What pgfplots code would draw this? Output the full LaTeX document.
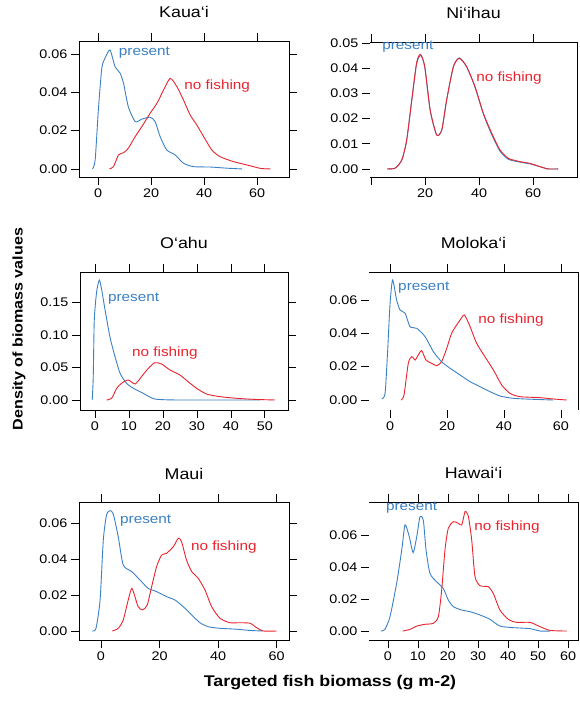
\documentclass[border=0pt]{standalone}
\usepackage{fontspec}
\setmainfont[FakeStretch=1.15]{Liberation Sans}
\usepackage{pgfplots}
\pgfplotsset{compat=1.18}
\definecolor{pblue}{RGB}{58,128,196}
\definecolor{nred}{RGB}{232,35,45}
\newcommand{\annfont}{\fontsize{13.3}{15}\selectfont}
\pgfplotsset{
  panel/.style={scale only axis, anchor=south west, clip=false, no markers,
    tick align=outside, major tick length=8pt,
    every tick/.style={black, line width=0.8pt},
    axis line style={line width=0.9pt},
    ticklabel style={font=\fontsize{12.5}{14}\selectfont},
    /pgf/number format/assume math mode=true,
    scaled y ticks=false,
    yticklabel style={/pgf/number format/fixed, /pgf/number format/fixed zerofill, /pgf/number format/precision=2},
    title style={font=\fontsize{15.5}{18}\selectfont, anchor=base, at={(0.5,1)}, yshift=17pt}},
  rightpanel/.style={panel, ytick pos=left, axis line style={draw=none}},
  present/.style={pblue, line width=0.9pt, smooth, tension=0.4},
  nofish/.style={nred, line width=0.9pt, smooth, tension=0.4},
}
\begin{document}
\begin{tikzpicture}
\path[use as bounding box] (0,0) rectangle (579pt,701pt);

% Kaua'i
\begin{axis}[panel, at={(79pt,524pt)}, width=210pt, height=136pt,
  xmin=-7.2, xmax=72, ymin=-0.0042, ymax=0.0668,
  xtick={0,20,40,60}, ytick={0,0.02,0.04,0.06}, title={Kaua‘i}]
\addplot[present] coordinates {(-2.1,0) (-1.1,0.0047) (0.1,0.0308) (1.4,0.0526) (2.6,0.0578) (4.5,0.0621) (6.4,0.0534) (8.3,0.050) (9.6,0.0447) (11.4,0.0325) (14.0,0.0247) (16.5,0.026) (19.6,0.027) (21.5,0.0247) (23.4,0.0169) (25.9,0.0099) (29.1,0.0073) (32.2,0.003) (36,0.0012) (42.3,0.001) (48.6,0.0004) (54.2,0)};
\addplot[nofish] coordinates {(4.3,0) (5.8,0.0012) (7.7,0.0073) (9.6,0.0085) (11.4,0.0108) (14,0.0169) (16.5,0.0221) (19.6,0.029) (22.2,0.0343) (24.7,0.0412) (27.2,0.0473) (29.7,0.043) (32.2,0.036) (34.7,0.0282) (37.2,0.023) (39.8,0.0169) (42.9,0.0099) (46.0,0.0064) (51.1,0.0038) (56.1,0.0021) (61.2,0.0003) (65,0)};
\node[pblue, anchor=west, inner sep=0, font=\annfont] at (axis cs:7.8,0.0605) {present};
\node[nred, anchor=west, inner sep=0, font=\annfont] at (axis cs:32.5,0.0433) {no fishing};
\end{axis}

% Ni'ihau
\begin{axis}[rightpanel, at={(370pt,524pt)}, width=207pt, height=135pt,
  xmin=-0.4, xmax=76.3, ymin=-0.0032, ymax=0.0504,
  xtick={0,20,40,60}, xticklabels={,20,40,60}, ytick={0,0.01,0.02,0.03,0.04,0.05}, title={Ni‘ihau}]
\draw[line width=0.9pt] (rel axis cs:0,1) -- (rel axis cs:1,1) -- (rel axis cs:1,0) -- (rel axis cs:0,0);
\addplot[present] coordinates {(6.0,0) (8.9,0.0003) (11.4,0.0036) (13.2,0.0115) (15.1,0.0274) (16.9,0.042) (18.5,0.0450) (19.9,0.0403) (21.9,0.0232) (24.3,0.0135) (26.2,0.0155) (28.0,0.0274) (30.5,0.0406) (32.7,0.0441) (35.4,0.0406) (38.5,0.0325) (41.6,0.0218) (44.7,0.0136) (47.8,0.0070) (50.9,0.0038) (55.2,0.0027) (58.9,0.0020) (62.6,0.0009) (65.6,0) (69.3,0)};
\addplot[nofish] coordinates {(6.0,0) (8.9,0.0003) (11.4,0.0036) (13.2,0.0115) (15.1,0.0276) (16.9,0.0423) (18.3,0.0455) (19.9,0.0406) (21.9,0.0234) (24.3,0.0135) (26.2,0.0155) (28.0,0.0274) (30.5,0.0406) (32.7,0.0439) (35.4,0.0406) (38.5,0.0327) (41.6,0.0221) (44.7,0.0142) (47.8,0.0075) (50.9,0.0042) (55.2,0.0029) (58.9,0.0022) (62.6,0.0009) (65.6,0) (69.3,0)};
\node[pblue, anchor=west, inner sep=0, font=\annfont] at (axis cs:4.1,0.0484) {present};
\node[nred, anchor=west, inner sep=0, font=\annfont] at (axis cs:38.9,0.0361) {no fishing};
\end{axis}

% O'ahu
\begin{axis}[panel, at={(80pt,291pt)}, width=208pt, height=138pt,
  xmin=-4.4, xmax=56.8, ymin=-0.0154, ymax=0.197,
  xtick={0,10,20,30,40,50}, ytick={0,0.05,0.10,0.15}, title={O‘ahu}]
\addplot[present] coordinates {(-0.8,0) (-0.5,0.0359) (-0.2,0.123) (0.5,0.1667) (1.3,0.1846) (2.0,0.169) (2.9,0.141) (4.4,0.0974) (5.9,0.0667) (7.4,0.041) (9.3,0.0256) (11.3,0.018) (14.2,0.0103) (17.6,0.0015) (24,0) (33.8,0) (44.6,0) (48.5,0)};
\addplot[nofish] coordinates {(3.4,0) (4.9,0.0026) (6.4,0.018) (7.8,0.0256) (9.8,0.0308) (11.8,0.0246) (13.7,0.0359) (15.7,0.0487) (17.6,0.0574) (19.6,0.0554) (22.1,0.0461) (25,0.0385) (27.4,0.0282) (29.9,0.018) (32.8,0.0092) (36.8,0.0051) (41.7,0.0026) (46.6,0.001) (52.9,0)};
\node[pblue, anchor=west, inner sep=0, font=\annfont] at (axis cs:3.8,0.1554) {present};
\node[nred, anchor=west, inner sep=0, font=\annfont] at (axis cs:10.9,0.0723) {no fishing};
\end{axis}

% Moloka'i
\begin{axis}[rightpanel, at={(369pt,291pt)}, width=209pt, height=138pt,
  xmin=-7.4, xmax=66, ymin=-0.006, ymax=0.0768,
  xtick={0,20,40,60}, ytick={0,0.02,0.04,0.06}, title={Moloka‘i}]
\draw[line width=0.9pt] (rel axis cs:0,1) -- (rel axis cs:1,1) -- (rel axis cs:1,0);
\addplot[present] coordinates {(-2.9,0.0006) (-1.75,0.004) (-0.9,0.028) (0,0.058) (0.9,0.072) (2.3,0.06) (3.5,0.054) (5.3,0.052) (7.0,0.044) (9.4,0.043) (12.3,0.038) (15.2,0.029) (18.1,0.023) (21.1,0.019) (24.6,0.015) (28.1,0.011) (31.6,0.008) (35.1,0.005) (38.6,0.0024) (43.3,0.001) (50.3,0.0004) (57.3,0)};
\addplot[nofish] coordinates {(3.9,0) (4.9,0.003) (6.4,0.022) (7.6,0.026) (8.8,0.024) (9.9,0.027) (11.1,0.0296) (12.6,0.024) (14.6,0.022) (16.4,0.0206) (18.1,0.023) (19.9,0.031) (21.6,0.04) (23.4,0.045) (24.6,0.048) (26.1,0.051) (28.1,0.044) (30.4,0.034) (33.3,0.026) (36.3,0.018) (39.2,0.009) (42.1,0.004) (45.6,0.002) (52.6,0.0014) (57.3,0.0006) (62,0)};
\node[pblue, anchor=west, inner sep=0, font=\annfont] at (axis cs:2.8,0.0672) {present};
\node[nred, anchor=west, inner sep=0, font=\annfont] at (axis cs:30.9,0.048) {no fishing};
\end{axis}

% Maui
\begin{axis}[panel, at={(79pt,61pt)}, width=210pt, height=138pt,
  xmin=-7.5, xmax=64.2, ymin=-0.005, ymax=0.0717,
  xtick={0,20,40,60}, ytick={0,0.02,0.04,0.06}, title={Maui}]
\addplot[present] coordinates {(-3.0,0) (-1.7,0.0015) (-0.3,0.0172) (0.8,0.0506) (1.9,0.0645) (3.1,0.0669) (4.2,0.065) (5.9,0.0524) (7.6,0.0367) (10.5,0.033) (13.3,0.0284) (16.1,0.0237) (19,0.0219) (22.4,0.0191) (25.3,0.0172) (28.1,0.0135) (31,0.0089) (33.8,0.0046) (36.6,0.0024) (40.6,0.0015) (46.3,0.001) (50.9,0.0003) (55.4,0)};
\addplot[nofish] coordinates {(3.9,0) (5.9,0.0015) (7.6,0.0061) (9.3,0.0172) (10.5,0.0237) (11.6,0.0191) (12.7,0.0135) (14.2,0.0117) (15.8,0.0145) (17.3,0.0246) (19,0.0358) (20.7,0.0422) (22.4,0.0432) (24.7,0.0469) (26.4,0.0515) (27.5,0.0497) (29.2,0.0395) (31,0.033) (33.2,0.0293) (35.5,0.0228) (37.8,0.0135) (40.6,0.0071) (44,0.0046) (47.4,0.0046) (50.9,0.0043) (53.1,0.0019) (55.4,0) (60,0)};
\node[pblue, anchor=west, inner sep=0, font=\annfont] at (axis cs:6.5,0.0611) {present};
\node[nred, anchor=west, inner sep=0, font=\annfont] at (axis cs:30.7,0.0467) {no fishing};
\end{axis}

% Hawai'i
\begin{axis}[rightpanel, at={(369pt,61pt)}, width=209pt, height=138pt,
  xmin=-6.3, xmax=63.3, ymin=-0.0056, ymax=0.0806,
  xtick={0,10,20,30,40,50,60}, ytick={0,0.02,0.04,0.06}, title={Hawai‘i}]
\draw[line width=0.9pt] (rel axis cs:0,1) -- (rel axis cs:1,1) -- (rel axis cs:1,0) -- (rel axis cs:0,0);
\addplot[present] coordinates {(-2.3,0) (-1,0.001) (0.7,0.009) (2.9,0.0298) (4.6,0.0506) (5.7,0.0663) (7.1,0.059) (8.4,0.049) (9.6,0.059) (10.7,0.0715) (11.8,0.069) (12.7,0.0506) (14,0.036) (16.2,0.0308) (18.4,0.0267) (20.1,0.0194) (21.8,0.0152) (24.6,0.0131) (27.3,0.0121) (30.7,0.01) (34,0.0073) (37.3,0.0031) (41.8,0.0021) (47.3,0.0015) (50.7,0) (54,0)};
\addplot[nofish] coordinates {(4.9,0) (7.3,0.001) (9.6,0.0031) (12.3,0.0042) (15.1,0.0048) (16.8,0.009) (17.9,0.0256) (19,0.0506) (20.1,0.0642) (21.8,0.0683) (23.4,0.0673) (24.6,0.0663) (25.7,0.0746) (26.8,0.0715) (27.9,0.0569) (29,0.034) (30.7,0.0283) (33.4,0.0277) (35.1,0.0235) (37.3,0.0131) (40.1,0.0073) (42.9,0.0054) (47.3,0.0054) (50.7,0.0027) (54,0.0004) (59.6,0)};
\node[pblue, anchor=west, inner sep=0, font=\annfont] at (axis cs:-0.7,0.0769) {present};
\node[nred, anchor=west, inner sep=0, font=\annfont] at (axis cs:28.7,0.065) {no fishing};
\end{axis}

\node[anchor=base, font=\bfseries\fontsize{15.5}{18}\selectfont] at (330pt,14pt) {Targeted fish biomass (g m-2)};
\node[rotate=90, font=\bfseries\fontsize{14}{16}\selectfont] at (19pt,372pt) {Density of biomass values};
\end{tikzpicture}
\end{document}
